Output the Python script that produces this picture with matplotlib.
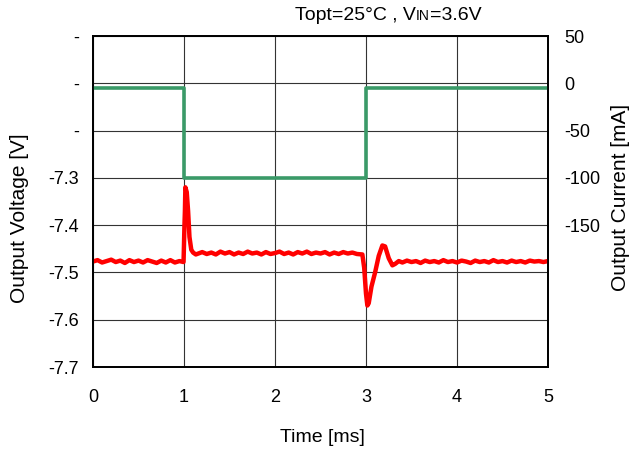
import matplotlib.pyplot as plt
from matplotlib.offsetbox import TextArea, HPacker, AnnotationBbox

plt.rcParams['font.family'] = ['Liberation Sans', 'DejaVu Sans']

# output voltage (red)
time_v = [0, 0.05, 0.1, 0.15, 0.2, 0.25, 0.3, 0.35, 0.4, 0.45, 0.5, 0.55, 0.6, 0.65,
          0.7, 0.75, 0.8, 0.85, 0.9, 0.95, 0.995,
          1.0, 1.005, 1.01, 1.015, 1.03, 1.045, 1.06, 1.08, 1.1, 1.13,
          1.2, 1.25, 1.3, 1.35, 1.4, 1.45, 1.5, 1.55, 1.6, 1.65, 1.7, 1.75, 1.8, 1.85,
          1.9, 1.95, 2.0, 2.05, 2.1, 2.15, 2.2, 2.25, 2.3, 2.35, 2.4, 2.45, 2.5, 2.55,
          2.6, 2.65, 2.7, 2.75, 2.8, 2.85, 2.9, 2.96,
          2.98, 3.0, 3.015, 3.03, 3.06, 3.1, 3.14, 3.18, 3.21, 3.25, 3.29, 3.32, 3.36,
          3.4, 3.45, 3.5, 3.55, 3.6, 3.65, 3.7, 3.75, 3.8, 3.85, 3.9, 3.95, 4.0, 4.05,
          4.1, 4.15, 4.2, 4.25, 4.3, 4.35, 4.4, 4.45, 4.5, 4.55, 4.6, 4.65, 4.7, 4.75,
          4.8, 4.85, 4.9, 4.95, 5.0]
voltage = [-7.477, -7.474, -7.479, -7.476, -7.473, -7.478, -7.475, -7.480, -7.474,
           -7.478, -7.475, -7.479, -7.474, -7.477, -7.480, -7.475, -7.479, -7.474,
           -7.479, -7.476, -7.478,
           -7.440, -7.400, -7.370, -7.320, -7.330, -7.370, -7.425, -7.452, -7.458,
           -7.462,
           -7.457, -7.461, -7.458, -7.462, -7.456, -7.460, -7.457, -7.462, -7.458,
           -7.461, -7.456, -7.460, -7.458, -7.462, -7.457, -7.461, -7.459, -7.456,
           -7.461, -7.458, -7.462, -7.457, -7.460, -7.456, -7.461, -7.458, -7.460,
           -7.457, -7.462, -7.458, -7.461, -7.457, -7.460, -7.458, -7.461, -7.462,
           -7.490, -7.545, -7.570, -7.565, -7.530, -7.500, -7.465, -7.443, -7.445,
           -7.470, -7.485, -7.482, -7.476,
           -7.479, -7.475, -7.478, -7.476, -7.480, -7.475, -7.478, -7.476, -7.479,
           -7.474, -7.478, -7.476, -7.479, -7.475, -7.477, -7.480, -7.475, -7.478,
           -7.476, -7.479, -7.474, -7.478, -7.476, -7.479, -7.475, -7.478, -7.476,
           -7.479, -7.475, -7.477, -7.476, -7.478, -7.476]

# output current (green) load step
time_i = [0, 1, 3, 5]
current = [-5, -100, -5, -5]

v_ticks = [-7.7, -7.6, -7.5, -7.4, -7.3, -7.2, -7.1, -7.0]
v_labels = ['-7.7', '-7.6', '-7.5', '-7.4', '-7.3', '-', '-', '-']
i_ticks = [-300, -250, -200, -150, -100, -50, 0, 50]
i_labels = ['', '', '', '-150', '-100', '-50', '0', '50']

fig = plt.figure(figsize=(6.42, 4.5), dpi=100)
ax = fig.add_axes([93 / 642, 1 - 367 / 450, 455 / 642, 331 / 450])
ax2 = ax.twinx()

ax.plot(time_v, voltage, color='#ff0000', lw=3.2, zorder=3)
ax2.plot(time_i, current, color='#3a9a68', lw=2.6, drawstyle='steps-post')

ax.set_xlim(0, 5)
ax.set_ylim(-7.7, -7.0)
ax2.set_ylim(-300, 50)
ax.set_xticks([0, 1, 2, 3, 4, 5])
ax.set_yticks(v_ticks)
ax.set_yticklabels(v_labels)
ax2.set_yticks(i_ticks)
ax2.set_yticklabels(i_labels)

ax.grid(True, color='#333333', lw=0.8)
ax.tick_params(axis='x', length=0, pad=16, labelsize=13)
ax.tick_params(axis='y', length=0, pad=10, labelsize=13)
ax2.tick_params(axis='y', length=0, pad=12, labelsize=13)
for a in (ax, ax2):
    for s in a.spines.values():
        s.set_linewidth(1.3)
        s.set_color('black')

fig.text(20 / 642, 1 - 218 / 450, 'Output Voltage [V]', rotation=90,
         ha='center', va='center', fontsize=15)
fig.text(621 / 642, 1 - 197 / 450, 'Output Current [mA]', rotation=90,
         ha='center', va='center', fontsize=15)
fig.text(322 / 642, 1 - 437 / 450, 'Time [ms]', ha='center', va='center', fontsize=14)

title = HPacker(children=[TextArea('Topt=25°C , V', textprops=dict(fontsize=14)),
                          TextArea('IN', textprops=dict(fontsize=10)),
                          TextArea('=3.6V', textprops=dict(fontsize=14))],
                align='baseline', pad=0, sep=0)
fig.add_artist(AnnotationBbox(title, (388 / 642, 1 - 15 / 450), xycoords='figure fraction',
                              frameon=False, box_alignment=(0.5, 0.5)))

fig.savefig('out.png', dpi=100)
